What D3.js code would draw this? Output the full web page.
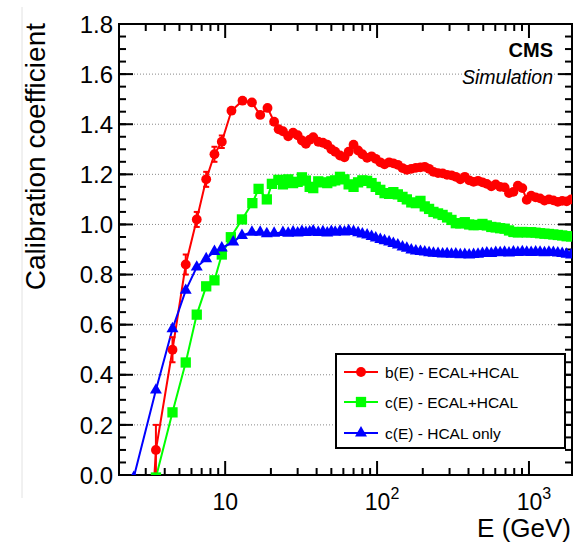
<!DOCTYPE html>
<html>
<head>
<meta charset="utf-8">
<script src="https://cdn.jsdelivr.net/npm/d3@7.9.0/dist/d3.min.js"></script>
<style>
  body { margin: 0; background: #fff; }
  text { font-family: "Liberation Sans", Arial, sans-serif; fill: #000; }
</style>
</head>
<body>
<svg id="chart" width="588" height="543"></svg>
<script>
// energies of the dense part (shared by all three curves above ~24 GeV)
const denseE = [24, 26, 28, 30, 32, 34, 36, 38, 41, 44, 47, 50, 53, 57, 61, 65, 70, 75, 80, 86, 92, 98, 105, 112, 120, 128, 137, 147, 157, 168, 180, 193, 206, 220, 235, 252, 270, 289, 309, 330, 353, 378, 404, 432, 462, 494, 528, 565, 604, 646, 691, 739, 790, 845, 904, 967, 1034, 1106, 1183, 1265, 1353, 1447, 1548, 1655, 1770, 1893];

// b(E) - ECAL+HCAL (red circles)
const redLowE = [2.5, 3.5, 4.5, 5.5, 6.5, 7.5, 8.5, 9.5, 11, 13, 15, 17, 19, 21, 22.5];
const redLowC = [-1.4, 0.10, 0.50, 0.84, 1.02, 1.18, 1.28, 1.33, 1.454, 1.494, 1.487, 1.437, 1.465, 1.41, 1.38];
const redErr = [0, 0.10, 0.05, 0.04, 0.03, 0.03, 0.03, 0.025];
const redDenseC = [1.372, 1.352, 1.366, 1.356, 1.335, 1.322, 1.338, 1.348, 1.33, 1.326, 1.318, 1.30, 1.29, 1.275, 1.268, 1.29, 1.318, 1.295, 1.28, 1.266, 1.272, 1.262, 1.248, 1.24, 1.248, 1.244, 1.238, 1.225, 1.218, 1.222, 1.226, 1.228, 1.23, 1.222, 1.21, 1.205, 1.204, 1.198, 1.196, 1.19, 1.18, 1.19, 1.176, 1.17, 1.174, 1.168, 1.162, 1.152, 1.16, 1.15, 1.148, 1.125, 1.13, 1.155, 1.145, 1.098, 1.115, 1.108, 1.104, 1.095, 1.10, 1.096, 1.09, 1.094, 1.092, 1.10];

// c(E) - ECAL+HCAL (green squares)
const greenLowE = [2.5, 3.5, 4.5, 5.5, 6.5, 7.5, 8.5, 9.5, 10.9, 12.9, 15.1, 16.6, 18.8, 20.3, 22.4];
const greenLowC = [-0.5, -0.01, 0.25, 0.449, 0.64, 0.753, 0.777, 0.88, 0.949, 1.02, 1.085, 1.142, 1.10, 1.162, 1.178];
const greenDenseC = [1.16, 1.18, 1.165, 1.17, 1.188, 1.175, 1.15, 1.145, 1.172, 1.168, 1.165, 1.172, 1.176, 1.19, 1.18, 1.16, 1.15, 1.168, 1.176, 1.174, 1.165, 1.15, 1.138, 1.125, 1.122, 1.129, 1.12, 1.11, 1.10, 1.088, 1.085, 1.094, 1.072, 1.062, 1.05, 1.044, 1.038, 1.028, 1.018, 1.005, 1.004, 1.009, 1.0, 0.997, 0.998, 1.002, 0.996, 0.99, 0.988, 0.985, 0.983, 0.976, 0.97, 0.968, 0.97, 0.968, 0.969, 0.967, 0.965, 0.963, 0.962, 0.96, 0.958, 0.956, 0.953, 0.952];

// c(E) - HCAL only (blue triangles)
const blueLowE = [2.5, 3.5, 4.5, 5.5, 6.5, 7.5, 8.5, 9.5, 11.3, 12.9, 15, 17, 18.8, 21];
const blueLowC = [-0.01, 0.339, 0.584, 0.737, 0.83, 0.863, 0.892, 0.906, 0.93, 0.956, 0.969, 0.969, 0.963, 0.965];
const blueDenseC = [0.968, 0.965, 0.97, 0.966, 0.972, 0.968, 0.97, 0.974, 0.968, 0.971, 0.966, 0.972, 0.969, 0.973, 0.97, 0.975, 0.972, 0.967, 0.962, 0.958, 0.952, 0.946, 0.94, 0.935, 0.93, 0.924, 0.918, 0.91, 0.905, 0.898, 0.894, 0.892, 0.89, 0.887, 0.885, 0.884, 0.882, 0.883, 0.881, 0.882, 0.879, 0.88, 0.878, 0.88, 0.881, 0.884, 0.886, 0.884, 0.888, 0.887, 0.889, 0.886, 0.89, 0.888, 0.891, 0.889, 0.888, 0.89, 0.889, 0.887, 0.889, 0.888, 0.886, 0.884, 0.881, 0.878];

const yTicks = [0, 0.2, 0.4, 0.6, 0.8, 1.0, 1.2, 1.4, 1.6, 1.8];
const yMinorTicks = d3.range(0, 1.8001, 0.05);
const xMajorTicks = [10, 100, 1000];
const xTickBases = ["10", "10", "10"];
const xTickExps = ["", "2", "3"];
const xMinorTicks = [3, 4, 5, 6, 7, 8, 9, 20, 30, 40, 50, 60, 70, 80, 90, 200, 300, 400, 500, 600, 700, 800, 900];
const legendLabels = ["b(E) - ECAL+HCAL", "c(E) - ECAL+HCAL", "c(E) - HCAL only"];

const svg = d3.select('#chart');
const plotL = 119, plotR = 572, plotT = 24, plotB = 475;

const x = d3.scaleLog().domain([2, 1920]).range([plotL, plotR]);
const y = d3.scaleLinear().domain([0, 1.8]).range([plotB, plotT]);

// faint border line at the left of the picture
svg.append('line').attr('x1', 22).attr('x2', 22).attr('y1', 7).attr('y2', 498)
  .attr('stroke', '#e2e2e2').attr('stroke-width', 1);

// grid
svg.append('g').selectAll('line').data(yTicks.slice(1, -1)).join('line')
  .attr('x1', plotL).attr('x2', plotR)
  .attr('y1', d => y(d)).attr('y2', d => y(d))
  .attr('stroke', '#888').attr('stroke-width', 1).attr('stroke-dasharray', '1,2');

// ticks on all four sides, pointing inward
const tickG = svg.append('g').attr('stroke', '#000').attr('stroke-width', 2);
function hTicks(vals, len) {
  vals.forEach(v => {
    tickG.append('line').attr('x1', x(v)).attr('x2', x(v)).attr('y1', plotB).attr('y2', plotB - len);
    tickG.append('line').attr('x1', x(v)).attr('x2', x(v)).attr('y1', plotT).attr('y2', plotT + len);
  });
}
function vTicks(vals, len) {
  vals.forEach(v => {
    tickG.append('line').attr('y1', y(v)).attr('y2', y(v)).attr('x1', plotL).attr('x2', plotL + len);
    tickG.append('line').attr('y1', y(v)).attr('y2', y(v)).attr('x1', plotR).attr('x2', plotR - len);
  });
}
hTicks(xMajorTicks, 14);
hTicks(xMinorTicks, 7);
vTicks(yTicks, 14);
vTicks(yMinorTicks, 7);

svg.append('rect').attr('x', plotL).attr('y', plotT).attr('width', plotR - plotL).attr('height', plotB - plotT)
  .attr('fill', 'none').attr('stroke', '#000').attr('stroke-width', 2);

// tick labels
svg.append('g').selectAll('text').data(yTicks).join('text')
  .attr('x', 113).attr('y', d => y(d)).attr('dy', '0.36em')
  .attr('text-anchor', 'end').style('font-size', '24px')
  .text(d => d.toFixed(1));

xMajorTicks.forEach((v, i) => {
  const t = svg.append('text').attr('x', x(v) + (xTickExps[i] ? 5 : 0)).attr('y', 510)
    .attr('text-anchor', 'middle').style('font-size', '23px');
  t.append('tspan').text(xTickBases[i]);
  if (xTickExps[i]) t.append('tspan').attr('dy', -11).style('font-size', '16px').text(xTickExps[i]);
});

// axis titles
svg.append('text').attr('x', 571).attr('y', 537).attr('text-anchor', 'end')
  .style('font-size', '26px').text('E (GeV)');
svg.append('text').attr('transform', 'translate(45,23) rotate(-90)').attr('text-anchor', 'end')
  .style('font-size', '28px').text('Calibration coefficient');

svg.append('text').attr('x', 553).attr('y', 57).attr('text-anchor', 'end')
  .style('font-size', '20px').style('font-weight', 'bold').text('CMS');
svg.append('text').attr('x', 553).attr('y', 84).attr('text-anchor', 'end')
  .style('font-size', '19.5px').style('font-style', 'italic').text('Simulation');

// series
svg.append('clipPath').attr('id', 'plot-clip').append('rect')
  .attr('x', plotL).attr('y', plotT).attr('width', plotR - plotL).attr('height', plotB - plotT);
const plot = svg.append('g').attr('clip-path', 'url(#plot-clip)');

const series = [
  { e: redLowE.concat(denseE), c: redLowC.concat(redDenseC), color: '#ff0000', symbol: d3.symbolCircle, size: 76 },
  { e: greenLowE.concat(denseE), c: greenLowC.concat(greenDenseC), color: '#00ff00', symbol: d3.symbolSquare, size: 106 },
  { e: blueLowE.concat(denseE), c: blueLowC.concat(blueDenseC), color: '#0000ff', symbol: d3.symbolTriangle, size: 62 }
];

const line = d3.line().x(d => x(d[0])).y(d => y(d[1]));

series.forEach(s => {
  const pts = s.e.map((e, i) => [e, s.c[i]]);
  plot.append('path').datum(pts).attr('d', line)
    .attr('fill', 'none').attr('stroke', s.color).attr('stroke-width', 2);
});

// error bars on the low-energy red points
redErr.forEach((err, i) => {
  if (!err) return;
  const px = x(redLowE[i]);
  const g = plot.append('g').attr('stroke', '#ff0000').attr('stroke-width', 2);
  g.append('line').attr('x1', px).attr('x2', px).attr('y1', y(redLowC[i] - err)).attr('y2', y(redLowC[i] + err));
  g.append('line').attr('x1', px - 3).attr('x2', px + 3).attr('y1', y(redLowC[i] + err)).attr('y2', y(redLowC[i] + err));
  g.append('line').attr('x1', px - 3).attr('x2', px + 3).attr('y1', y(redLowC[i] - err)).attr('y2', y(redLowC[i] - err));
});

series.forEach(s => {
  plot.append('g').selectAll('path').data(s.e.map((e, i) => [e, s.c[i]])).join('path')
    .attr('d', d3.symbol().type(s.symbol).size(s.size))
    .attr('transform', d => `translate(${x(d[0])},${y(d[1])})`)
    .attr('fill', s.color);
});

// legend
const lg = svg.append('g');
lg.append('rect').attr('x', 336).attr('y', 354).attr('width', 229).attr('height', 94)
  .attr('fill', '#fff').attr('stroke', '#000').attr('stroke-width', 2);
const legendY = [372, 402, 433];
series.forEach((s, i) => {
  lg.append('line').attr('x1', 344).attr('x2', 378).attr('y1', legendY[i]).attr('y2', legendY[i])
    .attr('stroke', s.color).attr('stroke-width', 2);
  lg.append('path').attr('d', d3.symbol().type(s.symbol).size(s.size))
    .attr('transform', `translate(361,${legendY[i]})`).attr('fill', s.color);
  lg.append('text').attr('x', 385).attr('y', legendY[i] + 5.5)
    .style('font-size', '15.5px').text(legendLabels[i]);
});
</script>
</body>
</html>
